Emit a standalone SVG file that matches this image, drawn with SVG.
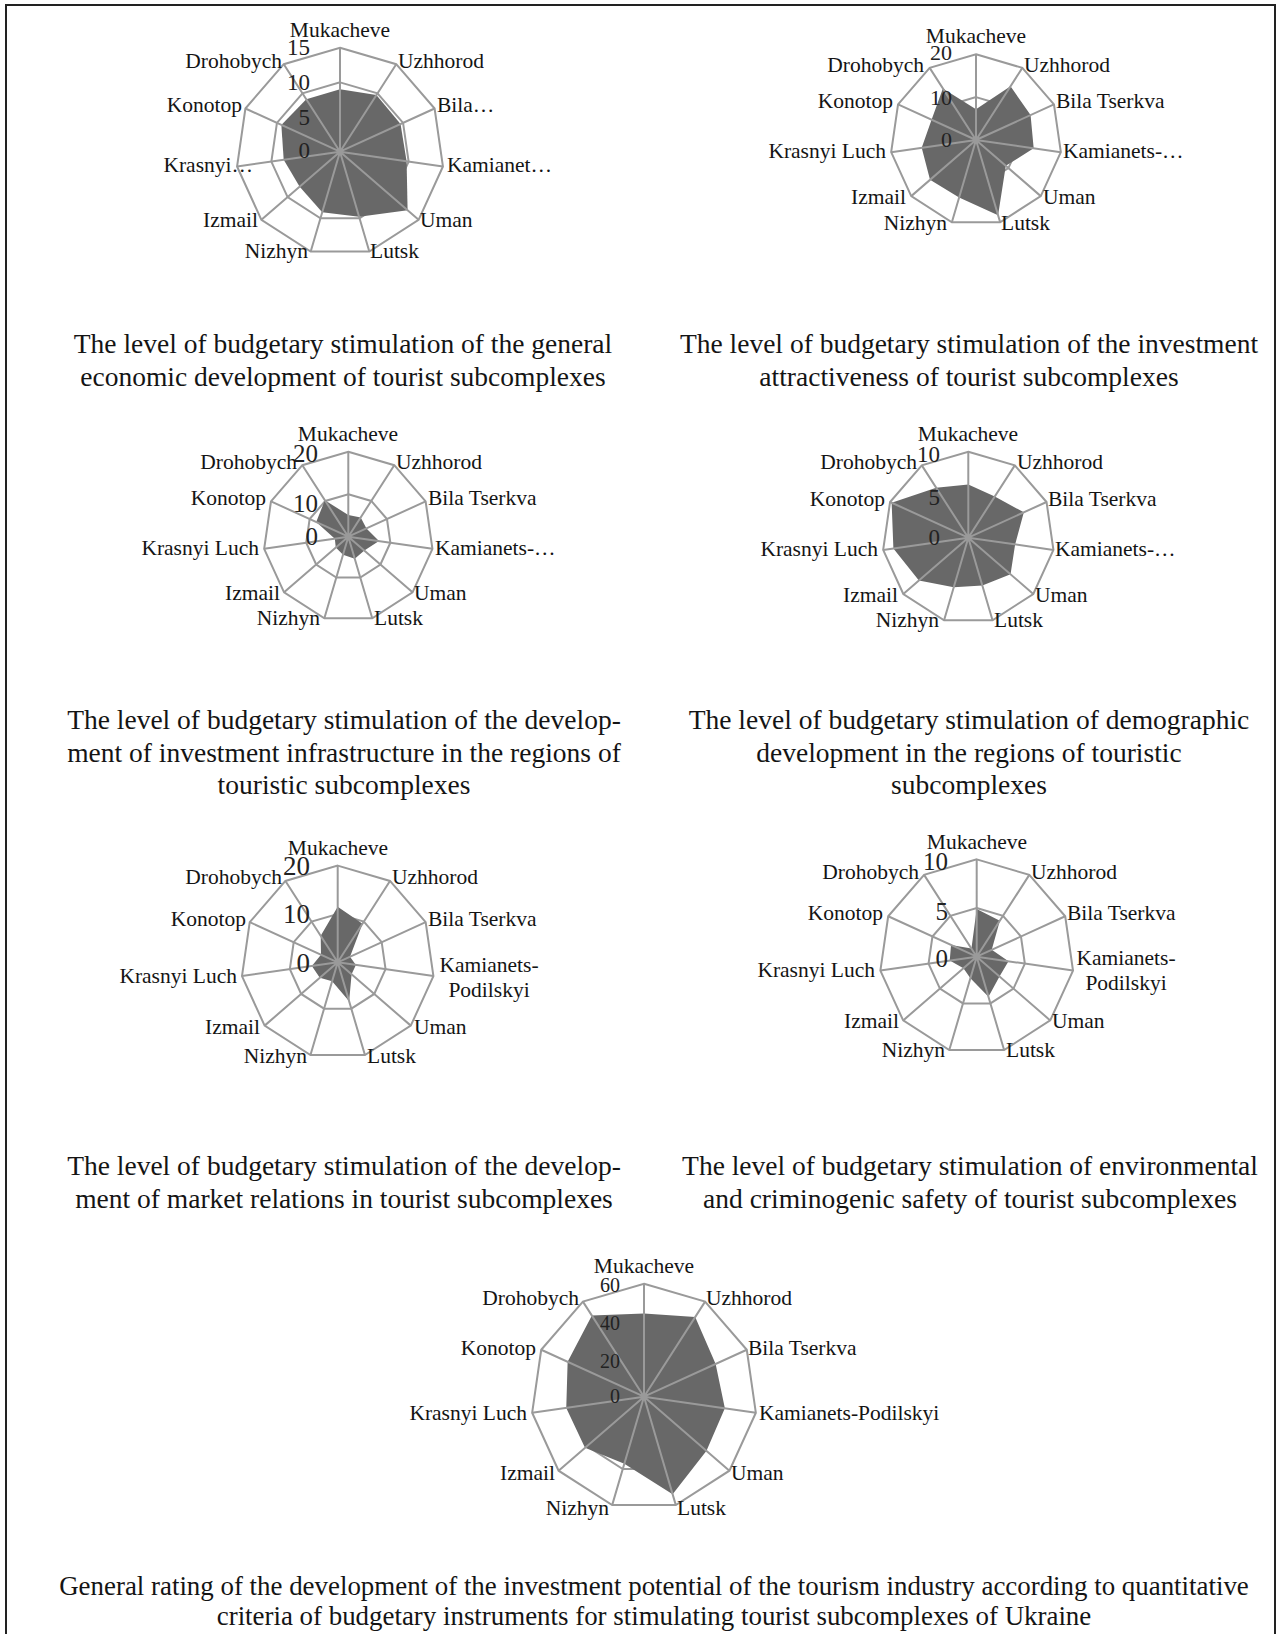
<svg xmlns="http://www.w3.org/2000/svg" xmlns:xlink="http://www.w3.org/1999/xlink" width="1280" height="1634" viewBox="0 0 1280 1634">
<style>
.g{fill:none;stroke:#9a9a9a;stroke-width:2;vector-effect:non-scaling-stroke}
.area{fill:#686868;stroke:none}
.lb{font-family:"Liberation Serif","Times New Roman",serif;font-size:21.5px;fill:#141414}
.num{font-family:"Liberation Serif","Times New Roman",serif;fill:#222;text-anchor:end}
.cap{font-family:"Liberation Serif","Times New Roman",serif;font-size:27.5px;fill:#141414;text-anchor:middle}
.e{text-anchor:end}
.m{text-anchor:middle}
</style>
<defs>
<polygon id="gon" class="g" points="0,-1 0.5406,-0.8413 0.9096,-0.4154 0.9898,0.1423 0.7557,0.6549 0.2817,0.9595 -0.2817,0.9595 -0.7557,0.6549 -0.9898,0.1423 -0.9096,-0.4154 -0.5406,-0.8413"/>
<path id="spokes" class="g" d="M0,0L0,-1M0,0L0.5406,-0.8413M0,0L0.9096,-0.4154M0,0L0.9898,0.1423M0,0L0.7557,0.6549M0,0L0.2817,0.9595M0,0L-0.2817,0.9595M0,0L-0.7557,0.6549M0,0L-0.9898,0.1423M0,0L-0.9096,-0.4154M0,0L-0.5406,-0.8413"/>
</defs>
<rect x="6" y="5" width="1269" height="1640" fill="#fff" stroke="#222" stroke-width="2"/>

<g id="chart1">
<g transform="translate(340,151.7) scale(104)">
<use href="#gon" transform="scale(0.3333)"/><use href="#gon" transform="scale(0.6667)"/><use href="#gon"/>
<polygon class="area" points="0,-0.6 0.3498,-0.5443 0.5821,-0.2659 0.6404,0.0921 0.6499,0.5632 0.184,0.6266 -0.171,0.5824 -0.3877,0.336 -0.5414,0.0778 -0.564,-0.2575 -0.3244,-0.5048"/>
<use href="#spokes"/>
</g>
<text class="num" x="310" y="55" font-size="23">15</text><text class="num" x="310" y="90" font-size="23">10</text><text class="num" x="310" y="125" font-size="23">5</text><text class="num" x="310" y="158" font-size="23">0</text>
<text class="lb m" x="340" y="37">Mukacheve</text>
<text class="lb" x="398" y="68">Uzhhorod</text>
<text class="lb" x="437" y="112">Bila…</text>
<text class="lb" x="447" y="172">Kamianet…</text>
<text class="lb" x="420" y="227">Uman</text>
<text class="lb" x="370" y="258">Lutsk</text>
<text class="lb e" x="308" y="258">Nizhyn</text>
<text class="lb e" x="258" y="227">Izmail</text>
<text class="lb e" x="253" y="172">Krasnyi…</text>
<text class="lb e" x="242" y="112">Konotop</text>
<text class="lb e" x="282" y="68">Drohobych</text>
</g>

<g id="chart2">
<g transform="translate(976,140) scale(85.7)">
<use href="#gon" transform="scale(0.5)"/><use href="#gon"/>
<polygon class="area" points="0,-0.36 0.4027,-0.6268 0.6367,-0.2908 0.6731,0.0968 0.3476,0.3013 0.2578,0.8779 -0.1972,0.6717 -0.5365,0.465 -0.6335,0.0911 -0.5185,-0.2368 -0.3865,-0.6015"/>
<use href="#spokes"/>
</g>
<text class="num" x="952" y="60" font-size="22">20</text><text class="num" x="952" y="105" font-size="22">10</text><text class="num" x="952" y="147" font-size="22">0</text>
<text class="lb m" x="976" y="43">Mukacheve</text>
<text class="lb" x="1024" y="72">Uzhhorod</text>
<text class="lb" x="1056" y="108">Bila Tserkva</text>
<text class="lb" x="1063" y="158">Kamianets-…</text>
<text class="lb" x="1043" y="204">Uman</text>
<text class="lb" x="1001" y="230">Lutsk</text>
<text class="lb e" x="947" y="230">Nizhyn</text>
<text class="lb e" x="906" y="204">Izmail</text>
<text class="lb e" x="886" y="158">Krasnyi Luch</text>
<text class="lb e" x="893" y="108">Konotop</text>
<text class="lb e" x="924" y="72">Drohobych</text>
</g>

<g id="chart3">
<g transform="translate(348.3,536.7) scale(85)">
<use href="#gon" transform="scale(0.5)"/><use href="#gon"/>
<polygon class="area" points="0,-0.255 0.146,-0.2272 0.2138,-0.0976 0.3613,0.0519 0.1889,0.1637 0.0761,0.2591 -0.062,0.2111 -0.1474,0.1277 -0.1584,0.0228 -0.3775,-0.1724 -0.2757,-0.4291"/>
<use href="#spokes"/>
</g>
<text class="num" x="318" y="462" font-size="25">20</text><text class="num" x="318" y="512" font-size="25">10</text><text class="num" x="318" y="545" font-size="25">0</text>
<text class="lb m" x="348" y="441">Mukacheve</text>
<text class="lb" x="396" y="469">Uzhhorod</text>
<text class="lb" x="428" y="505">Bila Tserkva</text>
<text class="lb" x="435" y="555">Kamianets-…</text>
<text class="lb" x="414" y="600">Uman</text>
<text class="lb" x="374" y="625">Lutsk</text>
<text class="lb e" x="320" y="625">Nizhyn</text>
<text class="lb e" x="280" y="600">Izmail</text>
<text class="lb e" x="259" y="555">Krasnyi Luch</text>
<text class="lb e" x="266" y="505">Konotop</text>
<text class="lb e" x="297" y="469">Drohobych</text>
</g>

<g id="chart4">
<g transform="translate(968.3,537.7) scale(86)">
<use href="#gon" transform="scale(0.5)"/><use href="#gon"/>
<polygon class="area" points="0,-0.62 0.3081,-0.4795 0.6458,-0.2949 0.5444,0.0783 0.4912,0.4257 0.1634,0.5565 -0.169,0.5757 -0.5743,0.4977 -0.871,0.1252 -0.8914,-0.4071 -0.373,-0.5805"/>
<use href="#spokes"/>
</g>
<text class="num" x="940" y="462" font-size="23">10</text><text class="num" x="940" y="505" font-size="23">5</text><text class="num" x="940" y="545" font-size="23">0</text>
<text class="lb m" x="968" y="441">Mukacheve</text>
<text class="lb" x="1017" y="469">Uzhhorod</text>
<text class="lb" x="1048" y="506">Bila Tserkva</text>
<text class="lb" x="1055" y="556">Kamianets-…</text>
<text class="lb" x="1035" y="602">Uman</text>
<text class="lb" x="994" y="627">Lutsk</text>
<text class="lb e" x="939" y="627">Nizhyn</text>
<text class="lb e" x="898" y="602">Izmail</text>
<text class="lb e" x="878" y="556">Krasnyi Luch</text>
<text class="lb e" x="885" y="506">Konotop</text>
<text class="lb e" x="917" y="469">Drohobych</text>
</g>

<g id="chart5">
<g transform="translate(337.7,962.3) scale(96.7)">
<use href="#gon" transform="scale(0.5)"/><use href="#gon"/>
<polygon class="area" points="0,-0.575 0.2568,-0.3996 0.1273,-0.0582 0.1881,0.027 0.1436,0.1244 0.1183,0.403 -0.0577,0.1967 -0.1851,0.1605 -0.2672,0.0384 -0.1728,-0.0789 -0.1757,-0.2734"/>
<use href="#spokes"/>
</g>
<text class="num" x="310" y="875" font-size="27">20</text><text class="num" x="310" y="923" font-size="27">10</text><text class="num" x="310" y="972" font-size="27">0</text>
<text class="lb m" x="338" y="855">Mukacheve</text>
<text class="lb" x="392" y="884">Uzhhorod</text>
<text class="lb" x="428" y="926">Bila Tserkva</text>
<text class="lb m" x="489" y="972">Kamianets-</text>
<text class="lb m" x="489" y="997">Podilskyi</text>
<text class="lb" x="414" y="1034">Uman</text>
<text class="lb" x="367" y="1063">Lutsk</text>
<text class="lb e" x="307" y="1063">Nizhyn</text>
<text class="lb e" x="260" y="1034">Izmail</text>
<text class="lb e" x="237" y="983">Krasnyi Luch</text>
<text class="lb e" x="246" y="926">Konotop</text>
<text class="lb e" x="282" y="884">Drohobych</text>
</g>

<g id="chart6">
<g transform="translate(976.7,956.7) scale(97.3)">
<use href="#gon" transform="scale(0.5)"/><use href="#gon"/>
<polygon class="area" points="0,-0.49 0.2379,-0.3702 0.1546,-0.0706 0.3266,0.047 0.2343,0.203 0.1211,0.4126 -0.0648,0.2207 -0.136,0.1179 -0.2771,0.0398 -0.2638,-0.1205 -0.0541,-0.0841"/>
<use href="#spokes"/>
</g>
<text class="num" x="948" y="870" font-size="25">10</text><text class="num" x="948" y="920" font-size="25">5</text><text class="num" x="948" y="967" font-size="25">0</text>
<text class="lb m" x="977" y="849">Mukacheve</text>
<text class="lb" x="1031" y="879">Uzhhorod</text>
<text class="lb" x="1067" y="920">Bila Tserkva</text>
<text class="lb m" x="1126" y="965">Kamianets-</text>
<text class="lb m" x="1126" y="990">Podilskyi</text>
<text class="lb" x="1052" y="1028">Uman</text>
<text class="lb" x="1006" y="1057">Lutsk</text>
<text class="lb e" x="945" y="1057">Nizhyn</text>
<text class="lb e" x="899" y="1028">Izmail</text>
<text class="lb e" x="875" y="977">Krasnyi Luch</text>
<text class="lb e" x="883" y="920">Konotop</text>
<text class="lb e" x="919" y="879">Drohobych</text>
</g>

<g id="chart7">
<g transform="translate(644,1396.7) scale(113)">
<use href="#gon" transform="scale(0.3333)"/><use href="#gon" transform="scale(0.6667)"/><use href="#gon"/>
<polygon class="area" points="0,-0.737 0.453,-0.705 0.634,-0.2895 0.7156,0.1029 0.5532,0.4794 0.2532,0.8626 -0.1741,0.593 -0.5222,0.4525 -0.6879,0.0989 -0.6758,-0.3086 -0.4611,-0.7176"/>
<use href="#spokes"/>
</g>
<text class="num" x="620" y="1292" font-size="20">60</text><text class="num" x="620" y="1330" font-size="20">40</text><text class="num" x="620" y="1368" font-size="20">20</text><text class="num" x="620" y="1403" font-size="20">0</text>
<text class="lb m" x="644" y="1273">Mukacheve</text>
<text class="lb" x="706" y="1305">Uzhhorod</text>
<text class="lb" x="748" y="1355">Bila Tserkva</text>
<text class="lb" x="759" y="1420">Kamianets-Podilskyi</text>
<text class="lb" x="731" y="1480">Uman</text>
<text class="lb" x="677" y="1515">Lutsk</text>
<text class="lb e" x="609" y="1515">Nizhyn</text>
<text class="lb e" x="555" y="1480">Izmail</text>
<text class="lb e" x="527" y="1420">Krasnyi Luch</text>
<text class="lb e" x="536" y="1355">Konotop</text>
<text class="lb e" x="579" y="1305">Drohobych</text>
</g>

<g id="captions">
<text class="cap" x="343" y="353">The level of budgetary stimulation of the general</text>
<text class="cap" x="343" y="386">economic development of tourist subcomplexes</text>
<text class="cap" x="969" y="353">The level of budgetary stimulation of the investment</text>
<text class="cap" x="969" y="386">attractiveness of tourist subcomplexes</text>
<text class="cap" x="344" y="729">The level of budgetary stimulation of the develop-</text>
<text class="cap" x="344" y="762">ment of investment infrastructure in the regions of</text>
<text class="cap" x="344" y="794">touristic subcomplexes</text>
<text class="cap" x="969" y="729">The level of budgetary stimulation of demographic</text>
<text class="cap" x="969" y="762">development in the regions of touristic</text>
<text class="cap" x="969" y="794">subcomplexes</text>
<text class="cap" x="344" y="1175">The level of budgetary stimulation of the develop-</text>
<text class="cap" x="344" y="1208">ment of market relations in tourist subcomplexes</text>
<text class="cap" x="970" y="1175">The level of budgetary stimulation of environmental</text>
<text class="cap" x="970" y="1208">and criminogenic safety of tourist subcomplexes</text>
<text class="cap" x="654" y="1595" style="font-size:26.9px">General rating of the development of the investment potential of the tourism industry according to quantitative</text>
<text class="cap" x="654" y="1625" style="font-size:26.9px">criteria of budgetary instruments for stimulating tourist subcomplexes of Ukraine</text>
</g>
<g id="connectors"/>
</svg>
